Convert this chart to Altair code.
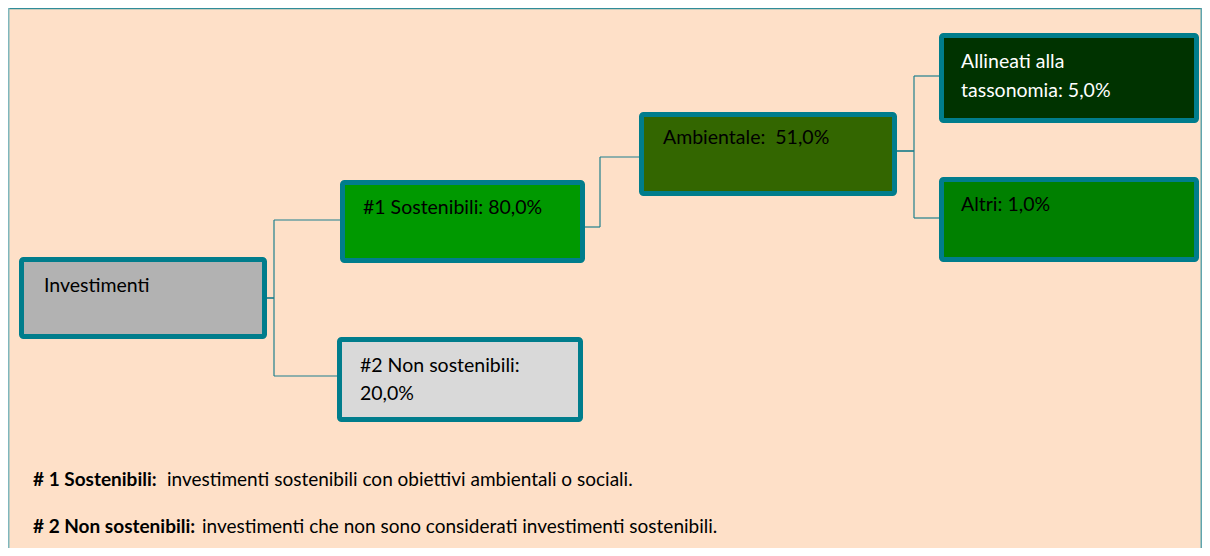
import altair as alt
import pandas as pd

# ---------------- data ----------------
node_names = ["Investimenti", "#1 Sostenibili", "#2 Non sostenibili", "Ambientale", "Allineati alla tassonomia", "Altri"]
node_values = [None, 80.0, 20.0, 51.0, 5.0, 1.0]
node_lines = [
    ["Investimenti"],
    ["#1 Sostenibili: {v}"],
    ["#2 Non sostenibili:", "{v}"],
    ["Ambientale:\u00a0 {v}"],
    ["Allineati alla", "tassonomia: {v}"],
    ["Altri: {v}"],
]
edges = [(0, 1), (0, 2), (1, 3), (3, 4), (3, 5)]
note_bold = ["# 1 Sostenibili:", "# 2 Non sostenibili:"]
note_text = [
    "investimenti sostenibili con obiettivi ambientali o sociali.",
    "investimenti che non sono considerati investimenti sostenibili.",
]

# ---------------- layout / style ----------------
W, H = 1210, 556
M = 8
box_geom = [  # outer x0, x1, y0, y1 (pixels)
    (19, 267, 257, 339),
    (340, 585, 180, 263),
    (337, 583, 337, 422),
    (639, 897, 112, 196),
    (939, 1199, 33, 123),
    (939, 1199, 177, 262),
]
box_fill = ["#B2B2B2", "#009900", "#D9D9D9", "#336600", "#003300", "#008000"]
text_color = ["#000000", "#000000", "#000000", "#000000", "#FFFFFF", "#000000"]
text_pos = [(44, [286]), (363, [208]), (360, [366, 394]), (663, [138]), (961, [62, 91]), (961, [205])]
edge_geom = [  # exit_x, exit_y, elbow_x, entry_y, entry_x
    (267, 298, 274, 220, 340),
    (267, 298, 274, 376, 337),
    (585, 227, 600, 157, 639),
    (897, 151, 914, 76, 939),
    (897, 151, 914, 218, 939),
]
note_pos = [(33, 167, 480), (33, 202, 527)]
panel_box = (8, 1202, 8, 548)
BORDER = "#007D8C"
LINE = "#1F7F8D"
FONT = "Lato"


def fmt(v):
    return f"{v:.1f}".replace(".", ",") + "%"


# boxes
sw = 5
boxes = pd.DataFrame([
    dict(name=n, x=g[0] + sw / 2, x2=g[1] - sw / 2, y=g[2] + sw / 2, y2=g[3] - sw / 2, fill=f)
    for n, g, f in zip(node_names, box_geom, box_fill)
])

# labels
rows = []
for i, (lines, v) in enumerate(zip(node_lines, node_values)):
    x, ys = text_pos[i]
    for line, y in zip(lines, ys):
        rows.append(dict(t=line.format(v=fmt(v) if v is not None else ""), x=x, y=y, c=text_color[i]))
labels = pd.DataFrame(rows)

# connectors
segs = []
for (a, b), (ex, ey, bx, ny, nx) in zip(edges, edge_geom):
    segs.append(dict(x=ex, y=ey, x2=bx, y2=ey))
    segs.append(dict(x=bx, y=ey, x2=bx, y2=ny))
    segs.append(dict(x=bx, y=ny, x2=nx, y2=ny))
segs = pd.DataFrame(segs)

notes_b = pd.DataFrame([dict(t=t, x=p[0], y=p[2]) for t, p in zip(note_bold, note_pos)])
notes_n = pd.DataFrame([dict(t=t, x=p[1], y=p[2]) for t, p in zip(note_text, note_pos)])

px0, px1, py0, py1 = panel_box
panel = pd.DataFrame([dict(x=px0, x2=px1, y=py0, y2=py1)])
panel_edges = pd.DataFrame([
    dict(x=px0, x2=px1, y=py0 + 0.5, y2=py0 + 0.5, c="#2F8C99"),
    dict(x=px0 + 0.75, x2=px0 + 0.75, y=py0, y2=py1, c="#7FB7BD"),
    dict(x=px1 - 0.75, x2=px1 - 0.75, y=py0, y2=py1, c="#5FA5AE"),
])

xs = alt.Scale(domain=[M, W - M], nice=False, zero=False)
ys = alt.Scale(domain=[H - M, M], nice=False, zero=False)
X = lambda f="x": alt.X(f"{f}:Q", scale=xs, axis=None)
Y = lambda f="y": alt.Y(f"{f}:Q", scale=ys, axis=None)

panel_l = alt.Chart(panel).mark_rect(fill="#FEE0C8").encode(
    x=X(), x2="x2", y=Y(), y2="y2")
pedge_l = alt.Chart(panel_edges).mark_rule(strokeWidth=1.5).encode(
    x=X(), x2="x2", y=Y(), y2="y2", color=alt.Color("c:N", scale=None))

seg_l = alt.Chart(segs).mark_rule(color=LINE, strokeWidth=1.2).encode(
    x=X(), x2="x2", y=Y(), y2="y2")

box_l = alt.Chart(boxes).mark_rect(stroke=BORDER, strokeWidth=sw, cornerRadius=2).encode(
    x=X(), x2="x2", y=Y(), y2="y2", fill=alt.Fill("fill:N", scale=None))

lab_l = alt.Chart(labels).mark_text(align="left", baseline="middle", font=FONT, fontSize=19.5).encode(
    x=X(), y=Y(), text="t:N", color=alt.Color("c:N", scale=None))

nb_l = alt.Chart(notes_b).mark_text(align="left", baseline="middle", font=FONT, fontSize=19, fontWeight="bold",
                                    color="#000000").encode(x=X(), y=Y(), text="t:N")
nn_l = alt.Chart(notes_n).mark_text(align="left", baseline="middle", font=FONT, fontSize=19,
                                    color="#000000").encode(x=X(), y=Y(), text="t:N")

chart = alt.layer(panel_l, pedge_l, seg_l, box_l, lab_l, nb_l, nn_l).properties(
    width=W - 2 * M, height=H - 2 * M, autosize=alt.AutoSizeParams(type="none"),
    padding=0,
    background="#FFFFFF",
).configure_view(stroke=None)

chart.save("out.html", embed_options={"renderer": "svg", "actions": False})
